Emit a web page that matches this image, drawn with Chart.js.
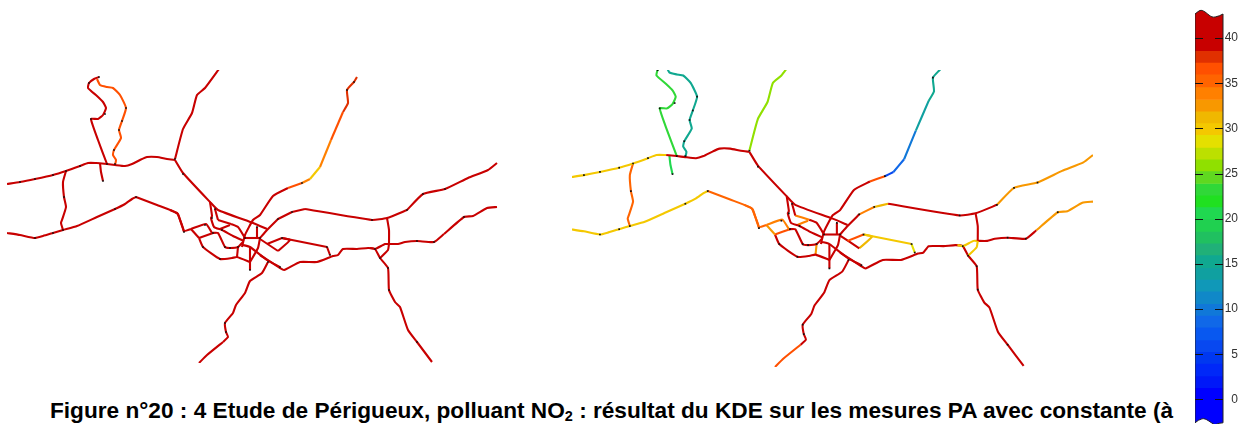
<!DOCTYPE html>
<html lang="fr">
<head>
<meta charset="utf-8">
<title>Figure 20</title>
<script src="https://cdn.jsdelivr.net/npm/chart.js@4/dist/chart.umd.min.js"></script>
<style>
  html, body { margin: 0; padding: 0; background: #fff; }
  #page { position: relative; width: 1241px; height: 424px; overflow: hidden; }
  canvas { position: absolute; }
  #mapLeft { left: 7px; top: 70px; }
  #mapRight { left: 572px; top: 70px; }
  #scaleBar { left: 1195px; top: 0; }
  #caption {
    position: absolute; left: 50px; top: 397px; white-space: nowrap;
    font: bold 22.65px "Liberation Sans", Arial, sans-serif; color: #000; line-height: 26px;
  }
  #caption sub { font-size: 14.5px; line-height: 0; vertical-align: -3px; }
</style>
</head>
<body>
<div id="page">
  <canvas id="mapLeft" width="491" height="293"></canvas>
  <canvas id="mapRight" width="521" height="297"></canvas>
  <canvas id="scaleBar" width="43" height="434"></canvas>
  <div id="caption">Figure n°20 : 4 Etude de Périgueux, polluant NO<sub>2</sub> : résultat du KDE sur les mesures PA avec constante (à</div>
</div>
<script>
// colour scale of the NO2 legend
const bandEdges = [43.2, 38.6, 37.3, 36, 34.6, 33.2, 31.9, 30.6, 29.3, 27.9, 26.6, 25.3, 23.9, 22.6, 21.3, 20,
  18.6, 17.3, 16, 14.6, 13.3, 12, 10.6, 9.3, 8, 6.6, 5.3, 4, 2.6, 1.3, -2.8];
const bandColors = ["#c80000", "#e03000", "#ff5000", "#ff6400", "#ff8000", "#f89800", "#f0b800", "#f4c800",
  "#e4e000", "#bce000", "#90e000", "#60d820", "#30d838", "#20e020", "#20d850",
  "#20d050", "#20c060", "#20b078", "#10a890", "#10a0a0", "#1098b8", "#1088c8", "#1078d8", "#1068e8",
  "#0858f0", "#0848f0", "#0038f0", "#0028f8", "#0018f8", "#0000ff"];
const scaleTicks = [0, 5, 10, 15, 20, 25, 30, 35, 40];

// road network, read in the frame of the left map
const roads = [
  [[7,184],[20,182],[35,179],[53,175],[66,171],[80,166],[88,163],[97,163]],
  [[97,163],[107,164],[115,165],[125,166],[132,164],[140,160],[147,157],[157,157],[167,159],[175,160]],
  [[7,233],[20,235],[35,238],[43,236],[53,233],[63,230],[77,226],[97,217],[115,209],[125,204],[132,199],[136,197]],
  [[136,197],[157,205],[177,213],[180,220],[183,228],[184,232]],
  [[66,171],[63,182],[64,197],[66,207],[62,220],[61,223],[63,230]],
  [[100,163],[101,172],[103,181]],
  [[107,164],[98,140],[91,119],[98,119],[103,115],[106,108],[103,102],[97,96],[88,88],[89,83],[94,79],[99,77]],
  [[97,79],[100,85],[107,87],[113,88],[120,95],[126,108],[122,121],[119,130],[121,138],[114,150],[113,155],[116,160],[115,165]],
  [[175,159],[183,129],[192,113],[197,95],[205,88],[219,69]],
  [[175,160],[183,173],[210,202],[218,210],[253,223],[267,229]],
  // north-east branch, cut where its colour changes
  [[357,77],[354,82],[347,90],[348,103],[343,112]],
  [[343,112],[331,140]],
  [[331,140],[320,167]],
  [[320,167],[310,179]],
  [[310,179],[302,183]],
  [[302,183],[288,188]],
  [[288,188],[273,196],[260,215],[253,220],[245,235],[242,247]],
  // east roads
  [[497,163],[488,170],[468,178],[445,189],[423,194],[407,210]],
  [[407,210],[387,218],[372,220],[305,209]],
  [[305,209],[292,212]],
  [[292,212],[278,219]],
  [[278,219],[267,230],[260,238]],
  [[387,218],[389,230],[389,244]],
  [[389,244],[388,250],[380,258]],
  [[497,207],[487,208],[473,216],[464,217],[444,234]],
  [[444,234],[434,242],[417,241],[405,242],[398,244],[389,244]],
  [[389,244],[385,244],[375,249],[370,248]],
  [[260,255],[280,268],[284,270],[300,262],[317,262],[333,256],[338,255],[343,249],[357,249],[368,248],[375,249],[380,258],[388,268],[389,290],[395,302],[400,307],[408,330],[417,342],[432,362]],
  [[267,244],[282,238]],
  [[282,238],[327,247]],
  [[327,247],[330,255]],
  [[260,239],[278,251]],
  [[278,251],[290,240],[282,238]],
  // south road
  [[268,262],[262,273],[250,281],[245,293],[236,305],[233,313],[225,323],[226,332],[228,337],[223,342]],
  [[223,342],[207,355],[199,363]],
  // town centre
  [[170,210],[178,214],[184,231],[191,229]],
  [[191,229],[206,224],[212,233]],
  [[191,229],[199,238]],
  [[199,238],[213,233]],
  [[199,238],[203,247],[220,259],[232,258],[237,257],[250,262]],
  [[212,233],[218,233],[225,247],[230,248],[238,247],[243,242]],
  [[238,247],[237,257]],
  [[250,247],[250,270]],
  [[243,245],[250,247],[267,260],[280,267]],
  [[210,202],[212,216],[211,218],[214,227],[222,230],[233,236],[244,241]],
  [[215,209],[218,220]],
  [[218,220],[231,224]],
  [[231,224],[238,227],[245,238]],
  [[220,229],[230,225]],
  [[257,227],[257,238]],
  [[245,238],[260,238]],
  [[260,238],[258,248],[250,262]]
];

// NO2 value of each road above, one list per map
const no2Left = [40, 40, 40, 40, 40, 39, 39, 36, 40, 40,
  38, 36, 34, 30, 34, 37, 40,
  40, 40, 40, 40, 40, 40, 40, 40, 40, 40, 40, 40, 40, 40, 40, 40,
  40, 40,
  40, 40, 40, 40, 40, 40, 40, 40, 40, 40, 40, 40, 40, 40, 40, 40, 40];
const no2Right = [30, 40, 30, 35, 35, 21, 23.5, 15, 26, 40,
  15, 14, 10, 8, 6, 36, 40,
  33, 40, 31, 34, 40, 40, 29.5, 33, 40, 29.5, 40, 37, 30.5, 29, 39, 31,
  40, 37,
  35, 34, 33, 36, 40, 40, 32, 40, 40, 40, 40, 34, 40, 34, 40, 40, 40];

// measuring points, drawn as small black dots
const sensors = [[20,182],[35,179],[53,175],[66,171],[80,166],[107,164],[115,164],[175,159],[183,174],[91,119],
  [105,114],[122,121],[119,130],[114,150],[126,108],[89,83],[99,77],[103,181],[64,197],[115,209],[136,197],
  [53,233],[35,238],[63,230],[184,232],[354,82],[347,90],[302,183],[292,212],[278,219],[372,220],[423,194],
  [407,210],[445,189],[464,217],[417,241],[434,242],[282,238],[330,255],[327,247],[388,268],[389,290],[380,258],
  [375,249],[417,342],[280,267],[268,262],[212,218],[222,230],[215,209],[238,247],[225,247],[220,259],[203,247],
  [250,270],[245,238],[260,238],[257,227],[230,248],[213,233],[205,225],[225,323],[226,332]];

Chart.defaults.animation = false;
Chart.defaults.font.family = '"Liberation Sans", Arial, sans-serif';

function colorFor(v) {
  for (let i = 0; i < bandColors.length; i++) {
    if (v >= bandEdges[i + 1]) return bandColors[i];
  }
  return bandColors[bandColors.length - 1];
}

function toXY(pts) {
  return pts.map(p => ({ x: p[0], y: p[1] }));
}

function drawMap(id, values, xMin, xMax, yMin, yMax) {
  const datasets = [{
    data: toXY(sensors),
    showLine: false,
    pointStyle: "rect",
    pointRadius: 1.2,
    pointBorderWidth: 0,
    pointBackgroundColor: "#111"
  }];
  roads.forEach((pts, i) => {
    datasets.push({
      data: toXY(pts),
      showLine: true,
      borderColor: colorFor(values[i]),
      borderWidth: 2.1,
      borderJoinStyle: "round",
      tension: 0.15,
      pointRadius: 0
    });
  });
  new Chart(document.getElementById(id), {
    type: "scatter",
    data: { datasets: datasets },
    options: {
      responsive: false,
      layout: { padding: 0, autoPadding: false },
      plugins: { legend: { display: false }, tooltip: { enabled: false } },
      scales: {
        x: { type: "linear", display: false, min: xMin, max: xMax },
        y: { type: "linear", display: false, reverse: true, min: yMin, max: yMax }
      }
    }
  });
}

drawMap("mapLeft", no2Left, 7, 498, 70, 363);
drawMap("mapRight", no2Right, 8.8, 497, 82.8, 363);

// wavy ends of the legend bar
function wavePath(ctx, a) {
  const w = a.right - a.left;
  ctx.beginPath();
  ctx.moveTo(a.left, a.top + 4);
  ctx.bezierCurveTo(a.left + w * 0.1, a.top + 2, a.left + w * 0.18, a.top - 1, a.left + w * 0.3, a.top + 1);
  ctx.bezierCurveTo(a.left + w * 0.45, a.top + 3, a.left + w * 0.55, a.top + 8, a.left + w * 0.72, a.top + 7);
  ctx.quadraticCurveTo(a.left + w * 0.88, a.top + 6, a.right, a.top + 4);
  ctx.lineTo(a.right, a.bottom - 2);
  ctx.quadraticCurveTo(a.left + w * 0.85, a.bottom - 2, a.left + w * 0.72, a.bottom);
  ctx.bezierCurveTo(a.left + w * 0.55, a.bottom - 2, a.left + w * 0.4, a.bottom - 7, a.left + w * 0.25, a.bottom - 6);
  ctx.quadraticCurveTo(a.left + w * 0.12, a.bottom - 5, a.left, a.bottom - 2);
  ctx.closePath();
}

const wavyBar = {
  id: "wavyBar",
  beforeDatasetsDraw(chart) {
    chart.ctx.save();
    wavePath(chart.ctx, chart.chartArea);
    chart.ctx.clip();
  },
  afterDatasetsDraw(chart) {
    const ctx = chart.ctx, a = chart.chartArea;
    ctx.restore();
    ctx.save();
    wavePath(ctx, a);
    ctx.lineWidth = 1;
    ctx.strokeStyle = "#222";
    ctx.stroke();
    // tick marks on both sides of the bar
    ctx.strokeStyle = "#111";
    scaleTicks.forEach(v => {
      const py = Math.round(chart.scales.y.getPixelForValue(v)) + 0.5;
      ctx.beginPath();
      ctx.moveTo(a.left, py);
      ctx.lineTo(a.left + 8, py);
      ctx.moveTo(a.right - 8, py);
      ctx.lineTo(a.right, py);
      ctx.stroke();
    });
    ctx.restore();
  }
};

new Chart(document.getElementById("scaleBar"), {
  type: "bar",
  data: {
    labels: ["NO2"],
    datasets: bandColors.map((c, i) => ({
      data: [[bandEdges[i + 1], bandEdges[i]]],
      backgroundColor: c,
      borderWidth: 0,
      barPercentage: 1,
      categoryPercentage: 1
    }))
  },
  plugins: [wavyBar],
  options: {
    responsive: false,
    layout: { padding: { top: 10, bottom: 1, left: 0, right: 0 }, autoPadding: false },
    plugins: { legend: { display: false }, tooltip: { enabled: false } },
    scales: {
      x: { display: false, stacked: true },
      y: {
        position: "right",
        min: -2.8,
        max: 43.1,
        afterBuildTicks(axis) { axis.ticks = scaleTicks.map(v => ({ value: v })); },
        afterFit(axis) { axis.width = 15; },
        grid: { display: false },
        border: { display: false },
        ticks: { color: "#333", font: { size: 12 }, padding: 2, crossAlign: "far" }
      }
    }
  }
});
</script>
</body>
</html>
